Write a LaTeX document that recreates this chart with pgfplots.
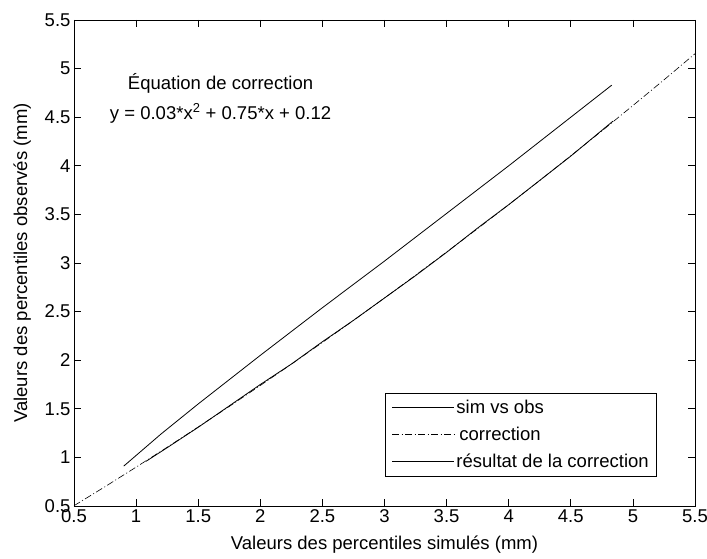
\documentclass[border=0pt]{standalone}
\usepackage{fontspec}
\setmainfont{Liberation Sans}
\usepackage{pgfplots}
\pgfplotsset{compat=1.18}

\begin{document}
\begin{tikzpicture}
\begin{axis}[
    name=ax,
    scale only axis,
    width=621pt,
    height=486pt,
    xmin=0.5, xmax=5.5,
    ymin=0.5, ymax=5.5,
    xtick={0.5,1,...,5.5},
    ytick={0.5,1,...,5.5},
    tick align=inside,
    major tick length=7pt,
    axis line style={line width=0.9pt},
    tick style={line width=0.8pt, black},
    font=\fontsize{18.5}{21}\selectfont,
    /pgf/number format/assume math mode=true,
    xlabel={Valeurs des percentiles simulés (mm)},
    ylabel={Valeurs des percentiles observés (mm)},
    xlabel style={yshift=-6pt},
    ylabel style={yshift=7pt},
    legend style={at={(0.939,0.2325)}, anchor=north east, draw=black,
        line width=0.8pt, inner xsep=6pt, inner ysep=5pt, row sep=8pt,
        font=\fontsize{18.5}{21}\selectfont},
    legend cell align=left,
    legend image code/.code={\draw[#1] (0pt,0pt) -- (62pt,0pt);},
]
% sim vs obs
\addplot[black, line width=0.8pt] coordinates {
    (1.08,0.96) (1.25,1.10) (1.50,1.31) (1.75,1.53) (2.00,1.75)
    (2.25,1.96) (2.50,2.19) (2.75,2.41) (3.00,2.64) (3.25,2.87)
    (3.50,3.11) (3.75,3.36) (4.00,3.60) (4.25,3.85) (4.50,4.10)
    (4.84,4.46)};
\addlegendentry{sim vs obs}
% correction
\addplot[black, line width=0.6pt, dash pattern=on 7pt off 2.5pt on 1pt off 2.5pt] coordinates {
    (0.50,0.503) (0.75,0.699) (1.00,0.900) (1.25,1.104) (1.50,1.313)
    (1.75,1.524) (2.00,1.740) (2.25,1.959) (2.50,2.183) (2.75,2.409)
    (3.00,2.640) (3.25,2.874) (3.50,3.113) (3.75,3.354) (4.00,3.600)
    (4.25,3.849) (4.50,4.103) (4.75,4.359) (5.00,4.620) (5.25,4.884)
    (5.50,5.153)};
\addlegendentry{\hspace{3pt}correction}
% résultat de la correction
\addplot[black, line width=0.8pt] coordinates {
    (0.90,0.91) (1.20,1.24) (1.50,1.55) (2.00,2.05) (2.50,2.54)
    (3.00,3.02) (3.50,3.51) (4.00,4.00) (4.50,4.50) (4.83,4.83)};
\addlegendentry{résultat de la correction}
\node[anchor=center] at (axis cs:1.68,4.85) {Équation de correction};
\node[anchor=center] at (axis cs:1.68,4.54) {y = 0.03*x\textsuperscript{2} + 0.75*x + 0.12};
\end{axis}
\pgfresetboundingbox
\path ([xshift=-74pt,yshift=-52pt]ax.south west) rectangle ([xshift=12pt,yshift=20pt]ax.north east);
\end{tikzpicture}
\end{document}
